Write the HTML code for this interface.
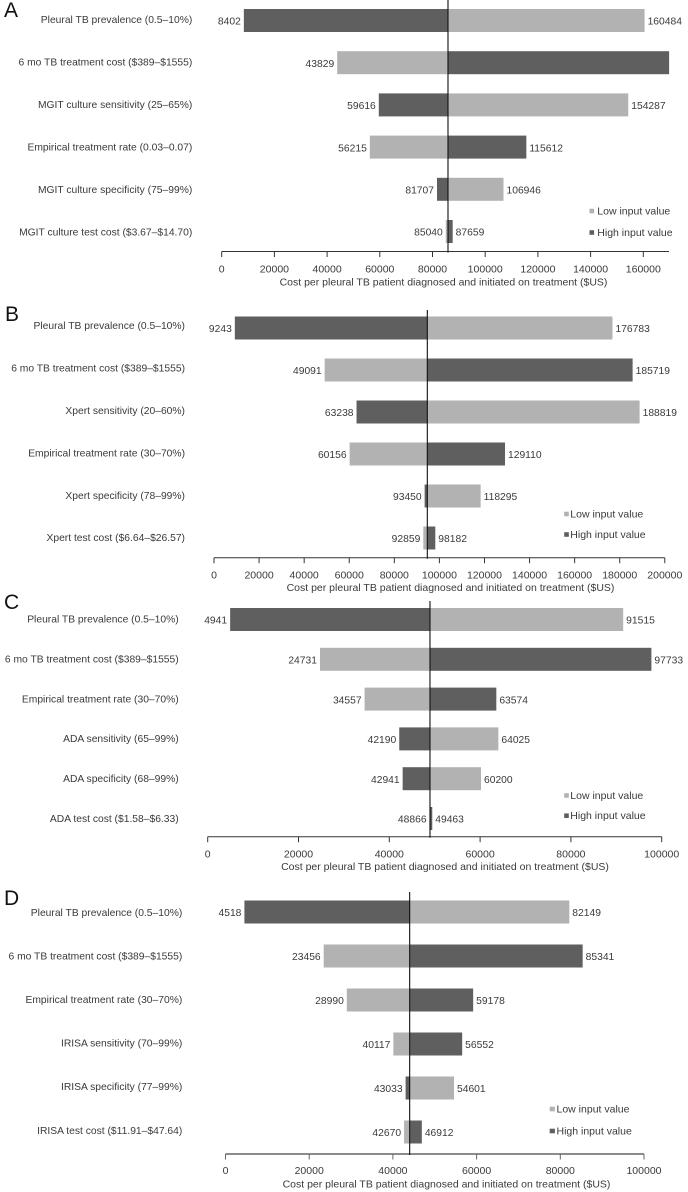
<!DOCTYPE html>
<html lang="en">
<head>
<meta charset="utf-8">
<title>Tornado sensitivity charts</title>
<style>
html,body{margin:0;padding:0;background:#fff;}
#chart-root{display:block;width:688px;height:1192px;}
text{font-family:"Liberation Sans",Arial,sans-serif;fill:#3a3a3a;}
</style>
</head>
<body>
<svg id="chart-root" xmlns="http://www.w3.org/2000/svg" width="688" height="1192" viewBox="0 0 688 1192"></svg>
<script>
var panelLetters = ["A", "B", "C", "D"];

var panelACategories = ["Pleural TB prevalence (0.5–10%)", "6 mo TB treatment cost ($389–$1555)", "MGIT culture sensitivity (25–65%)", "Empirical treatment rate (0.03–0.07)", "MGIT culture specificity (75–99%)", "MGIT culture test cost ($3.67–$14.70)"];
var panelALow = [160484, 43829, 154287, 56215, 106946, 85040];
var panelAHigh = [8402, 169800, 59616, 115612, 81707, 87659];
var panelABase = 85880;
var panelATicks = [0, 20000, 40000, 60000, 80000, 100000, 120000, 140000, 160000];
var panelAUnlabelledHighRows = [1];

var panelBCategories = ["Pleural TB prevalence (0.5–10%)", "6 mo TB treatment cost ($389–$1555)", "Xpert sensitivity (20–60%)", "Empirical treatment rate (30–70%)", "Xpert specificity (78–99%)", "Xpert test cost ($6.64–$26.57)"];
var panelBLow = [176783, 49091, 188819, 60156, 118295, 92859];
var panelBHigh = [9243, 185719, 63238, 129110, 93450, 98182];
var panelBBase = 94640;
var panelBTicks = [0, 20000, 40000, 60000, 80000, 100000, 120000, 140000, 160000, 180000, 200000];
var panelBUnlabelledHighRows = [];

var panelCCategories = ["Pleural TB prevalence (0.5–10%)", "6 mo TB treatment cost ($389–$1555)", "Empirical treatment rate (30–70%)", "ADA sensitivity (65–99%)", "ADA specificity (68–99%)", "ADA test cost ($1.58–$6.33)"];
var panelCLow = [91515, 24731, 34557, 64025, 60200, 48866];
var panelCHigh = [4941, 97733, 63574, 42190, 42941, 49463];
var panelCBase = 48960;
var panelCTicks = [0, 20000, 40000, 60000, 80000, 100000];
var panelCUnlabelledHighRows = [];

var panelDCategories = ["Pleural TB prevalence (0.5–10%)", "6 mo TB treatment cost ($389–$1555)", "Empirical treatment rate (30–70%)", "IRISA sensitivity (70–99%)", "IRISA specificity (77–99%)", "IRISA test cost ($11.91–$47.64)"];
var panelDLow = [82149, 23456, 28990, 40117, 54601, 42670];
var panelDHigh = [4518, 85341, 59178, 56552, 43033, 46912];
var panelDBase = 44010;
var panelDTicks = [0, 20000, 40000, 60000, 80000, 100000];
var panelDUnlabelledHighRows = [];

var axisTitleText = "Cost per pleural TB patient diagnosed and initiated on treatment ($US)";
var legendLowText = "Low input value";
var legendHighText = "High input value";

var LIGHT = "#b2b2b2";
var DARK = "#5f5f5f";
var FONT = 10.5;
var CAT_FONT = 10.3;
var VALUE_FONT = 10.3;
var BAR_H = 23;
var svg = document.getElementById("chart-root");
var NS = "http://www.w3.org/2000/svg";

function make(tag) {
  var node = document.createElementNS(NS, tag);
  return node;
}
function setAll(node, list) {
  for (var i = 0; i < list.length; i += 2) node.setAttribute(list[i], list[i + 1]);
}
function makeText(parent, str, x, y, anchor, size) {
  var t = make("text");
  setAll(t, ["x", x, "y", y, "text-anchor", anchor, "font-size", size]);
  t.textContent = str;
  parent.appendChild(t);
  return t;
}

function drawPanel(p) {
  var g = make("g");
  
  
  svg.appendChild(g);

  var xScale = function (v) { return p.x0 + (v - 0) * p.pxPerUnit; };
  var barY = function (i) { return p.barY0 + i * p.barStep; };
  var catY = function (i) { return p.catY0 + i * p.catStep; };

  var letter = makeText(g, p.letter, p.letterX, p.letterY, "start", 21);
  
  
  letter.style.fill = "#111";

  p.categories.forEach(function (name, i) {
    var cat = makeText(g, name, p.catRight, catY(i) + 3.5, "end", CAT_FONT);
    
    

    var baseX = xScale(p.base);
    var lowX = xScale(p.low[i]);
    var highX = xScale(p.high[i]);

    var lowBar = make("rect");
    setAll(lowBar, ["x", Math.min(baseX, lowX), "y", barY(i) - BAR_H / 2, "width", Math.abs(lowX - baseX), "height", BAR_H, "fill", LIGHT]);
    
    
    g.appendChild(lowBar);

    var highBar = make("rect");
    setAll(highBar, ["x", Math.min(baseX, highX), "y", barY(i) - BAR_H / 2, "width", Math.abs(highX - baseX), "height", BAR_H, "fill", DARK]);
    
    
    g.appendChild(highBar);

    var lowOnLeft = p.low[i] < p.high[i];
    var lowLabel = makeText(g, String(p.low[i]), lowX + (lowOnLeft ? -3 : 3), barY(i) + 4.2, lowOnLeft ? "end" : "start", VALUE_FONT);
    
    

    if (p.unlabelled.indexOf(i) < 0) {
      var highLabel = makeText(g, String(p.high[i]), highX + (lowOnLeft ? 3 : -3), barY(i) + 4.2, lowOnLeft ? "start" : "end", VALUE_FONT);
      
      
    }
  });

  var axis = make("line");
  setAll(axis, ["x1", p.x0, "x2", p.axisEnd, "y1", p.axisY, "y2", p.axisY, "stroke", p.axisColor, "stroke-width", p.axisWidth]);
  
  
  g.appendChild(axis);

  p.ticks.forEach(function (t) {
    var tick = make("line");
    setAll(tick, ["x1", xScale(t), "x2", xScale(t), "y1", p.axisY, "y2", p.axisY + 5.5, "stroke", p.axisColor, "stroke-width", 1]);
    
    
    g.appendChild(tick);

    var tickLabel = makeText(g, String(t), xScale(t), p.tickLabelY, "middle", FONT);
    
    
  });

  var title = makeText(g, axisTitleText, p.titleX, p.titleY, "middle", FONT);
  
  

  var center = make("line");
  setAll(center, ["x1", xScale(p.base), "x2", xScale(p.base), "y1", p.lineTop, "y2", p.axisY + 1, "stroke", "#111", "stroke-width", 1.1]);
  
  
  g.appendChild(center);

  var lowKey = make("rect");
  setAll(lowKey, ["x", p.legendX, "y", p.legendLowY - 2.3, "width", p.legendSize, "height", 4.6, "fill", LIGHT]);
  
  
  g.appendChild(lowKey);

  var lowText = makeText(g, legendLowText, p.legendTextX, p.legendLowY + 3.5, "start", FONT);
  
  

  var highKey = make("rect");
  setAll(highKey, ["x", p.legendX, "y", p.legendHighY - 2.3, "width", p.legendSize, "height", 4.6, "fill", DARK]);
  
  
  g.appendChild(highKey);

  var highText = makeText(g, legendHighText, p.legendTextX, p.legendHighY + 3.5, "start", FONT);
  
  
}

drawPanel({
  letter: panelLetters[0], letterX: 4, letterY: 17,
  categories: panelACategories, low: panelALow, high: panelAHigh, base: panelABase,
  ticks: panelATicks, unlabelled: panelAUnlabelledHighRows,
  x0: 221.7, pxPerUnit: 0.002635, axisEnd: 669, axisY: 251.5, axisColor: "#333", axisWidth: 1,
  tickLabelY: 272.5, titleX: 443.5, titleY: 285.5, lineTop: 0,
  barY0: 20.5, barStep: 42.2, catY0: 19.5, catStep: 42.5, catRight: 192.3,
  legendX: 589.5, legendSize: 4.6, legendTextX: 597.3, legendLowY: 211, legendHighY: 232.5
});
drawPanel({
  letter: panelLetters[1], letterX: 5, letterY: 321,
  categories: panelBCategories, low: panelBLow, high: panelBHigh, base: panelBBase,
  ticks: panelBTicks, unlabelled: panelBUnlabelledHighRows,
  x0: 214, pxPerUnit: 0.002254, axisEnd: 664.7, axisY: 557.7, axisColor: "#333", axisWidth: 1,
  tickLabelY: 578.5, titleX: 450.5, titleY: 591, lineTop: 310,
  barY0: 328, barStep: 42, catY0: 325.7, catStep: 42.4, catRight: 185,
  legendX: 564.2, legendSize: 4.6, legendTextX: 570.3, legendLowY: 514, legendHighY: 534.5
});
drawPanel({
  letter: panelLetters[2], letterX: 4, letterY: 609,
  categories: panelCCategories, low: panelCLow, high: panelCHigh, base: panelCBase,
  ticks: panelCTicks, unlabelled: panelCUnlabelledHighRows,
  x0: 207.7, pxPerUnit: 0.00454, axisEnd: 661.7, axisY: 836.7, axisColor: "#333", axisWidth: 1,
  tickLabelY: 857.5, titleX: 445, titleY: 870, lineTop: 601,
  barY0: 619.5, barStep: 39.8, catY0: 619, catStep: 39.9, catRight: 178.7,
  legendX: 564.2, legendSize: 4.6, legendTextX: 570.3, legendLowY: 795.5, legendHighY: 815.7
});
drawPanel({
  letter: panelLetters[3], letterX: 4, letterY: 905,
  categories: panelDCategories, low: panelDLow, high: panelDHigh, base: panelDBase,
  ticks: panelDTicks, unlabelled: panelDUnlabelledHighRows,
  x0: 225.5, pxPerUnit: 0.004185, axisEnd: 644, axisY: 1154, axisColor: "#666", axisWidth: 1.5,
  tickLabelY: 1174.2, titleX: 446.5, titleY: 1187.5, lineTop: 892,
  barY0: 912, barStep: 44, catY0: 912.3, catStep: 43.6, catRight: 182.3,
  legendX: 549.7, legendSize: 5.2, legendTextX: 556.5, legendLowY: 1109, legendHighY: 1131
});
</script>
</body>
</html>
